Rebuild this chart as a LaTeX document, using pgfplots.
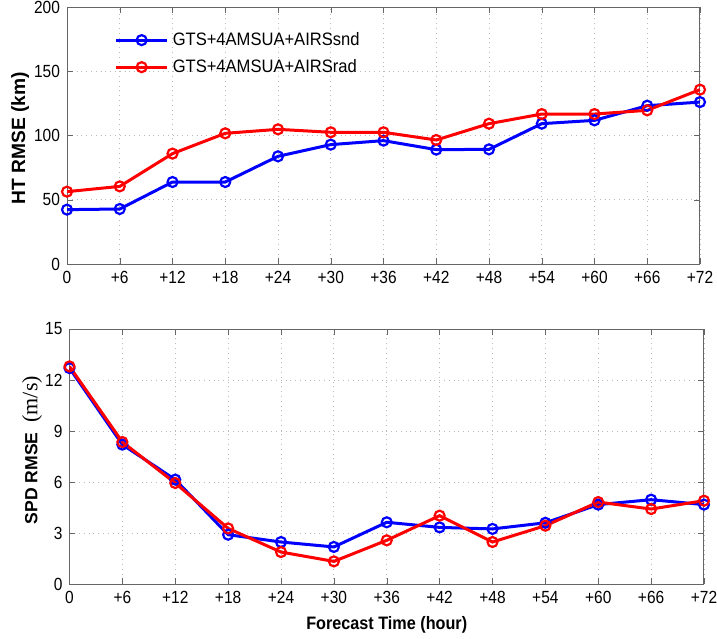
\documentclass[border=0pt]{standalone}
\usepackage{fontspec}
\setmainfont{Liberation Sans}
\newfontfamily\narrowfont{Liberation Sans}[FakeStretch=0.88]
\newfontfamily\legfont{Liberation Sans}[FakeStretch=0.92]
\newfontfamily\labfont{Liberation Sans}[FakeStretch=0.9]
\newfontfamily\seriffont{Liberation Serif}
\usepackage{pgfplots}
\pgfplotsset{compat=1.18}

\pgfplotsset{
  rmse/.style={
    scale only axis,
    xmin=0, xmax=72,
    xtick={0,6,...,72},
    xticklabels={0,+6,+12,+18,+24,+30,+36,+42,+48,+54,+60,+66,+72},
    grid=major,
    grid style={dotted, gray!55},
    axis line style={gray!80!black, line width=0.5pt},
    tick style={gray!80!black},
    tick align=inside,
    major tick length=3pt,
    tick label style={font=\narrowfont\fontsize{8.8}{10}\selectfont},
    /pgf/number format/assume math mode=true,
  },
  snd/.style={blue, line width=1.5pt, mark=o, mark size=2.5pt, mark options={line width=1.1pt}},
  rad/.style={red, line width=1.5pt, mark=o, mark size=2.5pt, mark options={line width=1.1pt}},
}

\begin{document}
\begin{tikzpicture}
\path[use as bounding box] (0pt,0pt) rectangle (358.5pt,319pt);

% top panel: height error
\begin{axis}[rmse,
  at={(33.5pt,187pt)}, anchor=south west,
  width=316.5pt, height=128.5pt,
  ymin=0, ymax=200, ytick={0,50,...,200},
  ylabel={\bfseries HT RMSE (km)},
  ylabel style={at={(axis description cs:-0.074,0.49)}, anchor=center, font=\fontsize{9.6}{11}\selectfont},
  legend style={at={(axis description cs:0.065,0.935)}, anchor=north west, draw=none, fill=none,
    font=\legfont\fontsize{9}{10}\selectfont, row sep=1.5pt},
  legend cell align=left,
  legend image code/.code={\draw[mark repeat=2, mark phase=2] plot coordinates {(0cm,0cm) (0.45cm,0cm) (0.9cm,0cm)};},
]
\addplot[snd] coordinates {
  (0,42.3) (6,42.8) (12,63.8) (18,63.8) (24,83.8) (30,92.9) (36,96.0)
  (42,89.0) (48,89.2) (54,109.2) (60,111.8) (66,123.2) (72,126.0)
};
\addlegendentry{GTS+4AMSUA+AIRSsnd}
\addplot[rad] coordinates {
  (0,56.3) (6,60.4) (12,85.9) (18,101.7) (24,104.8) (30,102.5) (36,102.5)
  (42,96.5) (48,109.2) (54,116.7) (60,116.7) (66,119.6) (72,135.7)
};
\addlegendentry{GTS+4AMSUA+AIRSrad}
\end{axis}

% bottom panel: wind speed error
\begin{axis}[rmse,
  at={(34.75pt,27pt)}, anchor=south west,
  width=317.25pt, height=127.5pt,
  ymin=0, ymax=15, ytick={0,3,...,15},
  ylabel={{\bfseries SPD RMSE}\ \ {\seriffont\fontsize{11}{12}\selectfont (m/s)}},
  ylabel style={at={(axis description cs:-0.059,0.525)}, anchor=center, font=\fontsize{8.8}{10}\selectfont},
  xlabel={\bfseries Forecast Time (hour)},
  xlabel style={at={(axis description cs:0.5,-0.161)}, anchor=center, font=\labfont\fontsize{9}{10}\selectfont},
]
\addplot[snd] coordinates {
  (0,12.7) (6,8.2) (12,6.14) (18,2.9) (24,2.47) (30,2.18) (36,3.63)
  (42,3.33) (48,3.24) (54,3.6) (60,4.67) (66,4.96) (72,4.67)
};
\addplot[rad] coordinates {
  (0,12.8) (6,8.35) (12,5.94) (18,3.27) (24,1.88) (30,1.33) (36,2.57)
  (42,4.02) (48,2.47) (54,3.43) (60,4.82) (66,4.41) (72,4.9)
};
\end{axis}
\end{tikzpicture}
\end{document}
